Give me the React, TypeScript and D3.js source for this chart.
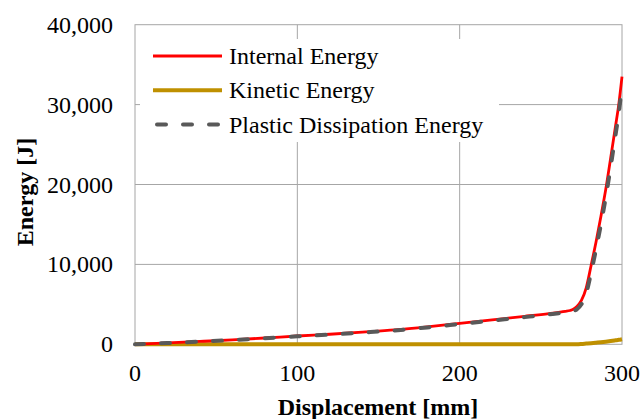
import React from "react";
import * as d3 from "d3";

const displacement = [0, 20, 40, 60, 80, 100, 120, 140, 160, 180, 200, 220, 240, 255, 265, 268, 270, 272, 275, 278, 281, 284, 287, 290, 293, 296, 298, 300];
const internalEnergy = [0, 180, 360, 560, 790, 1040, 1260, 1520, 1800, 2180, 2620, 3060, 3500, 3850, 4120, 4230, 4380, 4700, 5500, 7100, 9900, 12800, 16000, 19400, 23300, 27300, 30000, 33500];
const kineticEnergy = [0, 0, 0, 0, 0, 0, 0, 0, 0, 0, 0, 0, 0, 0, 0, 0, 0, 5, 40, 90, 140, 200, 260, 330, 410, 500, 560, 640];
const plasticEnergy = [0, 160, 340, 535, 760, 1000, 1210, 1465, 1740, 2110, 2540, 2970, 3400, 3740, 3990, 4080, 4170, 4350, 5000, 6400, 9000, 11900, 15000, 18400, 22200, 26200, 28900, 32500];

const xTicks = [0, 100, 200, 300];
const yTicks = [0, 10000, 20000, 30000, 40000];
const seriesNames = ["Internal Energy", "Kinetic Energy", "Plastic Dissipation Energy"];

const W = 641, H = 419;
const L = 135, R = 622, T = 24.7, B = 344.3;
const FONT = "Liberation Serif";
const GRID = "#a6a6a6";

export default function App() {
  const x = d3.scaleLinear().domain([0, 300]).range([L, R]);
  const y = d3.scaleLinear().domain([0, 40000]).range([B, T]);
  const fmt = d3.format(",");

  const mk = (vals: number[]) =>
    d3.line<number>().x((_, i) => x(displacement[i])).y((v) => y(v)).curve(d3.curveMonotoneX)(vals) || "";

  const styles = [
    { stroke: "#ff0000", width: 2.8 },
    { stroke: "#bf9000", width: 4 },
    { stroke: "#595959", width: 4 },
  ];

  const legendY = [56, 90.3, 124.6];
  const ts: React.CSSProperties = { fontFamily: FONT };

  return (
    <svg width={W} height={H} style={{ position: "absolute", left: 0, top: 0, background: "#fff", fontFamily: FONT }}>
      <rect x={0} y={0} width={W} height={H} fill="#fff" />
      {yTicks.slice(1, -1).map((t) => (
        <line key={"gy" + t} x1={L} x2={R} y1={y(t)} y2={y(t)} stroke={GRID} strokeWidth={1} />
      ))}
      {xTicks.slice(1, -1).map((t) => (
        <line key={"gx" + t} x1={x(t)} x2={x(t)} y1={T} y2={B} stroke={GRID} strokeWidth={1} />
      ))}
      <rect x={L} y={T} width={R - L} height={B - T} fill="none" stroke={GRID} strokeWidth={1} />

      <path d={mk(kineticEnergy)} fill="none" stroke={styles[1].stroke} strokeWidth={styles[1].width} />
      <path d={mk(internalEnergy)} fill="none" stroke={styles[0].stroke} strokeWidth={styles[0].width} />
      <path d={mk(plasticEnergy)} fill="none" stroke={styles[2].stroke} strokeWidth={styles[2].width} strokeDasharray="9 17" strokeLinecap="round" />

      {yTicks.map((t) => (
        <text key={"ty" + t} x={113} y={y(t) + 8} textAnchor="end" fontSize={24} fill="#000" style={ts}>{fmt(t)}</text>
      ))}
      {xTicks.map((t) => (
        <text key={"tx" + t} x={x(t)} y={381} textAnchor="middle" fontSize={24} fill="#000" style={ts}>{t}</text>
      ))}

      <text x={378} y={415} textAnchor="middle" fontSize={24} fontWeight="bold" fill="#000" style={ts}>Displacement [mm]</text>
      <text transform={`translate(33,192) rotate(-90)`} textAnchor="middle" fontSize={24} fontWeight="bold" fill="#000" style={ts}>Energy [J]</text>

      <rect x={140} y={39} width={359} height={103} fill="#fff" />
      {seriesNames.map((n, i) => (
        <g key={n}>
          <line x1={i === 2 ? 157 : 153} x2={i === 2 ? 218 : 222} y1={legendY[i]} y2={legendY[i]} stroke={styles[i].stroke} strokeWidth={styles[i].width} strokeDasharray={i === 2 ? "9 17" : undefined} strokeLinecap={i === 2 ? "round" : "butt"} />
          <text x={229} y={legendY[i] + 8} fontSize={24} fill="#000" style={ts}>{n}</text>
        </g>
      ))}
    </svg>
  );
}
